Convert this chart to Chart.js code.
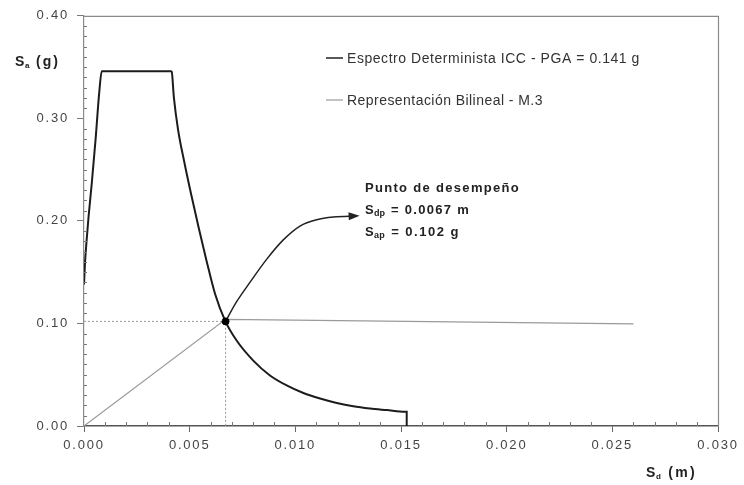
<!DOCTYPE html>
<html>
<head>
<meta charset="utf-8">
<script src="https://cdn.jsdelivr.net/npm/chart.js@4.4.1/dist/chart.umd.min.js"></script>
<style>
  html, body { margin: 0; padding: 0; background: #fff; }
  #wrap { width: 744px; height: 485px; position: relative; }
</style>
</head>
<body>
<div id="wrap"><canvas id="c" width="744" height="485"></canvas></div>
<script>
// ---- Data ----
const spectrumLabel = "Espectro Determinista ICC - PGA = 0.141 g";
const bilinearLabel = "Representación Bilineal - M.3";

const spectrumSd = [0, 0.00005, 0.00012, 0.00022, 0.00036, 0.00055, 0.00072, 0.00084, 0.0041, 0.00415, 0.00425, 0.00445, 0.00475, 0.00508, 0.00543, 0.0058, 0.0062, 0.00667, 0.00723, 0.00801, 0.0088, 0.00959, 0.01038, 0.01117, 0.01196, 0.01274, 0.01353, 0.01432, 0.01519, 0.01527, 0.01527];
const spectrumSa = [0.138, 0.16, 0.18, 0.205, 0.235, 0.28, 0.325, 0.346, 0.346, 0.3455, 0.321, 0.289, 0.257, 0.225, 0.193, 0.161, 0.129, 0.103, 0.0831, 0.0638, 0.0493, 0.0396, 0.0322, 0.0268, 0.0225, 0.0193, 0.0171, 0.0155, 0.0138, 0.0138, 0];

const bilinearSd = [0, 0.0067, 0.026];
const bilinearSa = [0, 0.104, 0.0995];

const perfSd = 0.0067;
const perfSa = 0.102;

const arrowSd = [0.0067, 0.0072, 0.00785, 0.00864, 0.00943, 0.01022, 0.01101, 0.0118, 0.0129];
const arrowSa = [0.102, 0.1205, 0.14, 0.1625, 0.1815, 0.195, 0.2012, 0.2038, 0.2048];

const xTickLabels = ["0.000", "0.005", "0.010", "0.015", "0.020", "0.025", "0.030"];
const yTickLabels = ["0.00", "0.10", "0.20", "0.30", "0.40"];

const annotTitle = "Punto de desempeño";
const annotSd = "0.0067 m";
const annotSa = "0.102 g";

// ---- Build datasets ----
const zip = (xs, ys) => xs.map((x, i) => ({ x: x, y: ys[i] }));
const FONT = "'Liberation Sans', Arial, sans-serif";

const overlay = {
  id: 'overlay',
  beforeDraw(chart) {
    chart.ctx.letterSpacing = '1.8px';
  },
  afterDraw(chart) {
    const ctx = chart.ctx;
    const xs = chart.scales.x, ys = chart.scales.y;
    const a = chart.chartArea;
    ctx.save();
    ctx.letterSpacing = '0px';
    // frame top & right
    ctx.strokeStyle = '#8a8a8a';
    ctx.lineWidth = 1.2;
    ctx.beginPath();
    ctx.moveTo(a.left, a.top + 0.5);
    ctx.lineTo(a.right + 0.5, a.top + 0.5);
    ctx.lineTo(a.right + 0.5, a.bottom);
    ctx.stroke();
    // minor ticks (inside)
    ctx.strokeStyle = '#777';
    ctx.lineWidth = 1;
    ctx.beginPath();
    for (let i = 1; i < 30; i++) {
      if (i % 5 === 0) continue;
      const px = Math.round(xs.getPixelForValue(i * 0.001)) + 0.5;
      ctx.moveTo(px, a.bottom);
      ctx.lineTo(px, a.bottom - 4);
    }
    for (let i = 1; i < 40; i++) {
      if (i % 10 === 0) continue;
      const py = Math.round(ys.getPixelForValue(i * 0.01)) + 0.5;
      ctx.moveTo(a.left, py);
      ctx.lineTo(a.left + 3, py);
    }
    ctx.stroke();

    // arrowhead at end of arrow curve
    const n = arrowSd.length;
    const tx = xs.getPixelForValue(arrowSd[n - 1]), ty = ys.getPixelForValue(arrowSa[n - 1]);
    const px0 = xs.getPixelForValue(arrowSd[n - 2]), py0 = ys.getPixelForValue(arrowSa[n - 2]);
    const ang = Math.atan2(ty - py0, tx - px0);
    ctx.fillStyle = '#222';
    ctx.beginPath();
    ctx.moveTo(tx + 3 * Math.cos(ang), ty + 3 * Math.sin(ang));
    ctx.lineTo(tx - 8 * Math.cos(ang) + 4 * Math.sin(ang), ty - 8 * Math.sin(ang) - 4 * Math.cos(ang));
    ctx.lineTo(tx - 8 * Math.cos(ang) - 4 * Math.sin(ang), ty - 8 * Math.sin(ang) + 4 * Math.cos(ang));
    ctx.closePath();
    ctx.fill();

    // helper: text fitted to a width via letter spacing
    function fitText(str, x, y, font, target) {
      ctx.font = font;
      ctx.letterSpacing = '0px';
      const w = ctx.measureText(str).width;
      const sp = Math.max(0, (target - w) / str.length);
      ctx.letterSpacing = sp.toFixed(2) + 'px';
      ctx.fillText(str, x, y);
      const w2 = ctx.measureText(str).width;
      return x + w2;
    }
    ctx.textBaseline = 'middle';
    ctx.textAlign = 'left';

    // legend
    ctx.strokeStyle = '#222';
    ctx.lineWidth = 1.5;
    ctx.beginPath(); ctx.moveTo(326, 58); ctx.lineTo(343, 58); ctx.stroke();
    ctx.strokeStyle = '#9a9a9a';
    ctx.lineWidth = 1.2;
    ctx.beginPath(); ctx.moveTo(326, 100); ctx.lineTo(343, 100); ctx.stroke();
    ctx.fillStyle = '#333';
    fitText(spectrumLabel, 347, 59, "14px " + FONT, 293);
    fitText(bilinearLabel, 347, 101, "14px " + FONT, 196);

    // annotation
    ctx.fillStyle = '#222';
    fitText(annotTitle, 365, 188, "bold 13px " + FONT, 155);
    let x = fitText("S", 365, 210, "bold 13px " + FONT, 9);
    x = fitText("dp", x, 214, "bold 9px " + FONT, 11);
    fitText(" = " + annotSd, x + 1, 210, "bold 13px " + FONT, 84);
    x = fitText("S", 365, 232, "bold 13px " + FONT, 9);
    x = fitText("ap", x, 236, "bold 9px " + FONT, 11);
    fitText(" = " + annotSa, x + 1, 232, "bold 13px " + FONT, 74);

    // axis titles
    ctx.fillStyle = '#222';
    x = fitText("S", 15, 62, "bold 14px " + FONT, 10);
    x = fitText("a", x, 66, "bold 8px " + FONT, 5);
    fitText(" (g)", x, 62, "bold 14px " + FONT, 30);
    x = fitText("S", 646, 473, "bold 14px " + FONT, 10);
    x = fitText("d", x, 477, "bold 8px " + FONT, 6);
    fitText(" (m)", x, 473, "bold 14px " + FONT, 35);
    ctx.restore();
  }
};

new Chart(document.getElementById('c'), {
  type: 'scatter',
  data: {
    datasets: [
      { label: spectrumLabel, data: zip(spectrumSd, spectrumSa), showLine: true, borderColor: '#1c1c1c', borderWidth: 2, pointRadius: 0, cubicInterpolationMode: 'monotone', order: 2 },
      { label: bilinearLabel, data: zip(bilinearSd, bilinearSa), showLine: true, borderColor: '#9a9a9a', borderWidth: 1.2, pointRadius: 0, tension: 0, order: 3 },
      { label: 'guides', data: [{ x: 0, y: perfSa }, { x: perfSd, y: perfSa }, { x: perfSd, y: 0 }], showLine: true, borderColor: '#9a9a9a', borderWidth: 1, borderDash: [2, 2], pointRadius: 0, order: 4 },
      { label: 'arrow', data: zip(arrowSd, arrowSa), showLine: true, borderColor: '#222', borderWidth: 1.5, pointRadius: 0, cubicInterpolationMode: 'monotone', order: 1 },
      { label: 'point', data: [{ x: perfSd, y: perfSa }], showLine: false, pointRadius: 3.5, pointBackgroundColor: '#000', pointBorderColor: '#000', order: 0 }
    ]
  },
  options: {
    responsive: false,
    animation: false,
    layout: { padding: { top: 12, right: 26, left: 0, bottom: 0 } },
    plugins: { legend: { display: false }, tooltip: { enabled: false } },
    scales: {
      x: {
        type: 'linear', min: 0, max: 0.03,
        ticks: { stepSize: 0.005, padding: 6, color: '#444', font: { size: 13, family: FONT },
          callback: (v) => xTickLabels[Math.round(v / 0.005)] },
        grid: { drawOnChartArea: false, drawTicks: true, tickLength: 6, color: '#666' },
        border: { color: '#555', width: 1.5 },
        afterFit: (s) => { s.height = 59; }
      },
      y: {
        type: 'linear', min: 0, max: 0.4,
        ticks: { stepSize: 0.1, padding: 8, color: '#444', font: { size: 13, family: FONT },
          callback: (v) => yTickLabels[Math.round(v / 0.1)] },
        grid: { drawOnChartArea: false, drawTicks: true, tickLength: 7, color: '#777' },
        border: { color: '#8a8a8a', width: 1.2 },
        afterFit: (s) => { s.width = 84; }
      }
    }
  },
  plugins: [overlay]
});
</script>
</body>
</html>
